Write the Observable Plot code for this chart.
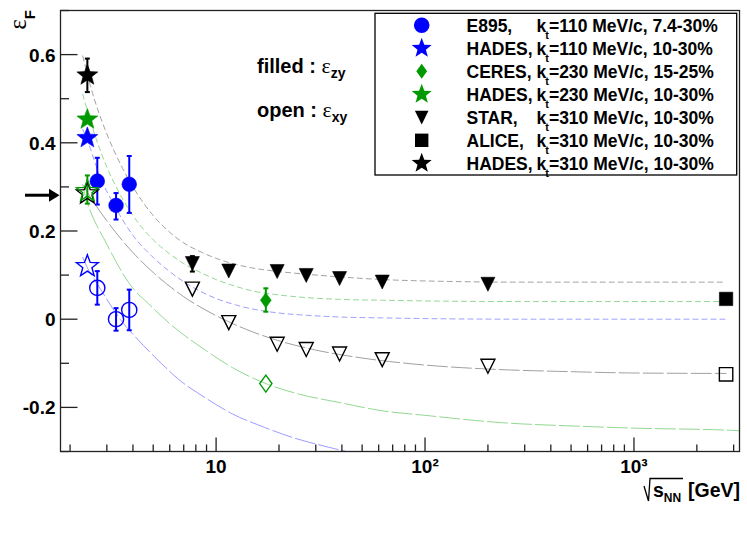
<!DOCTYPE html>
<html><head><meta charset="utf-8">
<script src="https://cdn.jsdelivr.net/npm/d3@7"></script>
<script src="https://cdn.jsdelivr.net/npm/@observablehq/plot@0.6"></script>
<style>
body{margin:0;background:#fff}
#chart svg{display:block}
</style>
</head><body><div id="chart"></div>
<script>
// ---------------- data ----------------
const hadesX = [2.42, 2.42, 2.42];            // kt = 110, 230, 310
const hadesZy = [0.411, 0.453, 0.553];
const hadesZyLo = [null, null, 0.515];
const hadesZyHi = [null, null, 0.591];
const hadesXy = [0.120, 0.290, 0.285];
const hadesXyLo = [null, 0.262, null];
const hadesXyHi = [null, 0.326, null];

const e895X = [2.70, 3.32, 3.84];
const e895Zy = [0.313, 0.258, 0.306];
const e895ZyLo = [0.260, 0.226, 0.241];
const e895ZyHi = [0.366, 0.286, 0.370];
const e895Xy = [0.071, 0.000, 0.021];
const e895XyLo = [0.033, -0.026, -0.025];
const e895XyHi = [0.109, 0.025, 0.067];

const starX = [7.7, 11.5, 19.6, 27, 39, 62.4, 200];
const starZy = [0.127, 0.110, 0.109, 0.100, 0.093, 0.085, 0.080];
const starZyLo = [0.108, null, null, null, null, null, null];
const starZyHi = [0.143, null, null, null, null, null, null];
const starXy = [0.069, -0.007, -0.056, -0.068, -0.078, -0.091, -0.106];

const ceresX = [17.3];
const ceresZy = [0.043];
const ceresZyLo = [0.017];
const ceresZyHi = [0.070];
const ceresXy = [-0.146];

const aliceX = [2760];
const aliceZy = [0.046];
const aliceXy = [-0.125];

// fitted curves
const fitZy310X = [2.3, 2.5, 3, 3.5, 4, 5, 6, 7, 8.5, 10, 12.5, 15, 20, 27, 39, 62, 118, 300, 2760];
const fitZy310Y = [0.597, 0.53, 0.42, 0.35, 0.30, 0.235, 0.197, 0.173, 0.152, 0.138, 0.124, 0.116, 0.108, 0.102, 0.096, 0.090, 0.086, 0.084, 0.084];
const fitZy230X = [2.3, 2.5, 3, 3.5, 4, 5, 6, 7, 8.5, 10, 12.5, 15, 20, 27, 39, 62, 118, 300, 2760];
const fitZy230Y = [0.51, 0.45, 0.345, 0.28, 0.235, 0.18, 0.148, 0.126, 0.105, 0.090, 0.074, 0.064, 0.055, 0.049, 0.045, 0.043, 0.041, 0.040, 0.040];
const fitZy110X = [2.3, 2.4, 2.8, 3.24, 4, 5, 6, 7, 8.5, 10, 12.5, 15, 20, 27, 39, 62, 118, 300, 2760];
const fitZy110Y = [0.43, 0.41, 0.32, 0.26, 0.19, 0.14, 0.108, 0.085, 0.062, 0.047, 0.032, 0.023, 0.014, 0.009, 0.005, 0.003, 0.001, 0.0, 0.0];
const fitXy310X = [2.3, 2.5, 3, 4, 5, 7, 10, 15, 20, 30, 50, 100, 200, 500, 1000, 2760];
const fitXy310Y = [0.305, 0.277, 0.223, 0.151, 0.106, 0.051, 0.008, -0.029, -0.049, -0.070, -0.088, -0.104, -0.113, -0.119, -0.122, -0.123];
const fitXy230X = [2.3, 2.4, 3, 4, 4.75, 6, 9, 12, 17.3, 25, 40, 61, 100, 238, 500, 1000, 2900, 3200];
const fitXy230Y = [0.30, 0.27, 0.17, 0.07, 0.035, -0.01, -0.072, -0.11, -0.146, -0.17, -0.19, -0.207, -0.218, -0.235, -0.242, -0.247, -0.252, -0.253];
const fitXy110X = [2.3, 2.4, 2.7, 3.0, 3.5, 4.2, 5.2, 6.6, 9, 12, 17, 23.5, 30, 42, 60, 100];
const fitXy110Y = [0.14, 0.12, 0.08, 0.045, -0.002, -0.045, -0.09, -0.136, -0.18, -0.215, -0.245, -0.269, -0.283, -0.30, -0.318, -0.335];

// axes
const yMajor = [-0.2, 0, 0.2, 0.4, 0.6];
const yMajorLabels = ["-0.2", "0", "0.2", "0.4", "0.6"];
const yMinor = [-0.3, -0.1, 0.1, 0.3, 0.5, 0.7];
const xMajor = [10, 100, 1000];
const xMajorLabels = ["10", "10\u00b2", "10\u00b3"];
const xMinor = [2, 3, 4, 5, 6, 7, 8, 9, 20, 30, 40, 50, 60, 70, 80, 90, 200, 300, 400, 500, 600, 700, 800, 900, 2000, 3000];

// legend
const legendNames = ["E895,", "HADES,", "CERES,", "HADES,", "STAR,", "ALICE,", "HADES,"];
const legendKt = ["110", "110", "230", "230", "310", "310", "310"];
const legendTail = ["7.4-30%", "10-30%", "15-25%", "10-30%", "10-30%", "10-30%", "10-30%"];

// ---------------- styles ----------------
const BLUE = "#0000ff", GREEN = "#009a00", BLACK = "#000000";
const LBLUE = "#9c9cff", LGREEN = "#92d892", LGRAY = "#a0a0a0";
const FONT = "'Liberation Sans', Arial, Helvetica, sans-serif";

// custom symbols (radius = sqrt(size/pi))
const rad = s => Math.sqrt(s / Math.PI);
const symStar = {draw(c, s) { const r = rad(s), ri = r * 0.42;
  for (let i = 0; i < 10; i++) { const a = -Math.PI / 2 + i * Math.PI / 5, rr = i % 2 ? ri : r;
    const x = rr * Math.cos(a), y = rr * Math.sin(a); i ? c.lineTo(x, y) : c.moveTo(x, y); }
  c.closePath(); }};
const symCircle = {draw(c, s) { const r = rad(s); c.moveTo(r, 0); c.arc(0, 0, r, 0, 2 * Math.PI); c.closePath(); }};
const symTri = {draw(c, s) { const r = rad(s); c.moveTo(-r, -r * 0.95); c.lineTo(r, -r * 0.95); c.lineTo(0, r * 1.05); c.closePath(); }};
const symDiamond = {draw(c, s) { const r = rad(s); c.moveTo(0, -r); c.lineTo(r * 0.72, 0); c.lineTo(0, r); c.lineTo(-r * 0.72, 0); c.closePath(); }};
const symSquare = {draw(c, s) { const r = rad(s); c.rect(-r, -r, 2 * r, 2 * r); }};
const symCap = {draw(c) { c.moveTo(-2.5, 0); c.lineTo(2.5, 0); }};
const hTick = len => ({draw(c) { c.moveTo(0, 0); c.lineTo(len, 0); }});
const vTick = len => ({draw(c) { c.moveTo(0, 0); c.lineTo(0, -len); }});

// ---------------- helpers ----------------
const pts = (xs, ys) => xs.map((x, i) => ({x, y: ys[i]}));
function curve(xs, ys, color, dash) {
  return Plot.line(pts(xs, ys), {x: "x", y: "y", stroke: color, strokeWidth: 1, strokeDasharray: dash, curve: "monotone-x", clip: true});
}
function dots(xs, ys, sym, r, color, filled) {
  return Plot.dot(pts(xs, ys), {x: "x", y: "y", symbol: sym, r, fill: filled ? color : "none", stroke: color, strokeWidth: filled ? 0.6 : 1.4});
}
function errs(xs, lo, hi, color) {
  const d = []; xs.forEach((x, i) => { if (lo[i] != null) d.push({x, lo: lo[i], hi: hi[i]}); });
  const caps = d.flatMap(e => [{x: e.x, y: e.lo}, {x: e.x, y: e.hi}]);
  return [Plot.ruleX(d, {x: "x", y1: "lo", y2: "hi", stroke: color, strokeWidth: 2}),
          Plot.dot(caps, {x: "x", y: "y", symbol: symCap, stroke: color, strokeWidth: 2})];
}

const SHORT = "5,4", LONG = "20,4";
const plot = Plot.plot({
  width: 747, height: 537,
  marginLeft: 60, marginRight: 8, marginTop: 10, marginBottom: 86,
  x: {type: "log", domain: [1.8, 3200], axis: null},
  y: {domain: [-0.3, 0.7], axis: null},
  style: {background: "white", fontFamily: FONT},
  marks: [
    curve(fitZy310X, fitZy310Y, LGRAY, SHORT),
    curve(fitZy230X, fitZy230Y, LGREEN, SHORT),
    curve(fitZy110X, fitZy110Y, LBLUE, SHORT),
    curve(fitXy310X, fitXy310Y, LGRAY, LONG),
    curve(fitXy230X, fitXy230Y, LGREEN, LONG),
    curve(fitXy110X, fitXy110Y, LBLUE, LONG),
    ...errs(e895X, e895ZyLo, e895ZyHi, BLUE),
    ...errs(e895X, e895XyLo, e895XyHi, BLUE),
    ...errs(hadesX, hadesZyLo, hadesZyHi, BLACK),
    ...errs(hadesX, hadesXyLo, hadesXyHi, GREEN),
    ...errs(starX, starZyLo, starZyHi, BLACK),
    ...errs(ceresX, ceresZyLo, ceresZyHi, GREEN),
    dots(e895X, e895Zy, symCircle, 7.3, BLUE, true),
    dots(e895X, e895Xy, symCircle, 7.6, BLUE, false),
    dots([hadesX[0]], [hadesZy[0]], symStar, 11, BLUE, true),
    dots([hadesX[1]], [hadesZy[1]], symStar, 11, GREEN, true),
    dots([hadesX[2]], [hadesZy[2]], symStar, 11, BLACK, true),
    dots([hadesX[0]], [hadesXy[0]], symStar, 11.5, BLUE, false),
    dots([hadesX[2]], [hadesXy[2]], symStar, 11.5, BLACK, false),
    dots([hadesX[1]], [hadesXy[1]], symStar, 11.5, GREEN, false),
    dots(starX, starZy, symTri, 7, BLACK, true),
    dots(starX, starXy, symTri, 7, BLACK, false),
    dots(ceresX, ceresZy, symDiamond, 7.5, GREEN, true),
    dots(ceresX, ceresXy, symDiamond, 8.5, GREEN, false),
    dots(aliceX, aliceZy, symSquare, 6.7, BLACK, true),
    dots(aliceX, aliceXy, symSquare, 6.7, BLACK, false),
    Plot.frame({stroke: "#222", strokeWidth: 1.3}),
    Plot.dot(yMajor, {y: d => d, frameAnchor: "left", symbol: hTick(17), stroke: "#222", strokeWidth: 1.3}),
    Plot.dot(yMinor, {y: d => d, frameAnchor: "left", symbol: hTick(8.5), stroke: "#222", strokeWidth: 1.3}),
    Plot.dot(xMajor, {x: d => d, frameAnchor: "bottom", symbol: vTick(14), stroke: "#222", strokeWidth: 1.3}),
    Plot.dot(xMinor, {x: d => d, frameAnchor: "bottom", symbol: vTick(7), stroke: "#222", strokeWidth: 1.3}),
    Plot.text(yMajor, {y: d => d, text: (d, i) => yMajorLabels[i], frameAnchor: "left", textAnchor: "end", dx: -5, dy: 1, fontSize: 19, fontWeight: "bold", fill: "black"}),
    Plot.text(xMajor, {x: d => d, text: (d, i) => xMajorLabels[i], frameAnchor: "bottom", dy: 21, fontSize: 19, fontWeight: "bold", fill: "black"})
  ]
});
document.getElementById("chart").appendChild(plot);

// ---------------- annotations ----------------
const svg = d3.select(plot);
const ys = v => 10 + (0.7 - v) / 1.0 * 441;
const g = svg.append("g").attr("font-family", FONT).attr("fill", "black").attr("text-anchor", "start");

// y-axis title (rotated)
const yt = g.append("text").attr("transform", "translate(26,10) rotate(-90)").attr("text-anchor", "end");
yt.append("tspan").attr("font-family", "'Liberation Serif', serif").attr("font-size", 25).text("\u03b5");
yt.append("tspan").attr("font-size", 15).attr("font-weight", "bold").attr("dy", 9).text("F");

// x-axis title
g.append("text").attr("x", 740).attr("y", 497).attr("text-anchor", "end").attr("font-size", 19.5).attr("font-weight", "bold").text("[GeV]");
const xt = g.append("text").attr("x", 653).attr("y", 497).attr("font-size", 19.5).attr("font-weight", "bold");
xt.append("tspan").text("s");
xt.append("tspan").attr("font-size", 12).attr("dy", 5).text("NN");
g.append("path").attr("d", "M644,486 L648.5,501 L650,478.5 H683").attr("fill", "none").attr("stroke", "black").attr("stroke-width", 1.3);

// filled / open annotation
[["filled : ", "zy", 73], ["open : ", "xy", 117]].forEach(([a, sub, yb]) => {
  const t = g.append("text").attr("x", 257).attr("y", yb).attr("font-size", 20).attr("font-weight", "bold").style("white-space", "pre");
  t.append("tspan").text(a);
  t.append("tspan").attr("font-family", "'Liberation Serif', serif").attr("font-weight", "normal").attr("font-size", 22).text("\u03b5");
  t.append("tspan").attr("font-size", 14).attr("dy", 5).text(sub);
});

// arrow at left
const ay = ys(0.28);
g.append("line").attr("x1", 25).attr("x2", 51).attr("y1", ay).attr("y2", ay).attr("stroke", "black").attr("stroke-width", 3);
g.append("path").attr("d", `M49,${ay - 6.5} L59.5,${ay} L49,${ay + 6.5} Z`).attr("fill", "black");

// legend
g.append("rect").attr("x", 375).attr("y", 13.3).attr("width", 361.7).attr("height", 161.7).attr("fill", "white").attr("stroke", "black").attr("stroke-width", 1.3);
const legSyms = [[symCircle, 7.8, BLUE], [symStar, 10.5, BLUE], [symDiamond, 7.5, GREEN], [symStar, 10.5, GREEN], [symTri, 6.8, BLACK], [symSquare, 6.7, BLACK], [symStar, 10.5, BLACK]];
legendNames.forEach((name, i) => {
  const cy = 25.3 + i * 23.0;
  const [sym, r, col] = legSyms[i];
  const p = d3.path(); sym.draw(p, r * r * Math.PI);
  g.append("path").attr("d", p.toString()).attr("transform", `translate(421.7,${cy})`).attr("fill", col);
  g.append("text").attr("x", 466.5).attr("y", cy + 6.2).attr("font-size", 17.5).attr("font-weight", "bold").text(name);
  const t = g.append("text").attr("x", 536.5).attr("y", cy + 6.2).attr("font-size", 17.5).attr("font-weight", "bold");
  t.append("tspan").text("k");
  t.append("tspan").attr("font-size", 11).attr("dy", 7).attr("dx", -1).text("t");
  t.append("tspan").attr("dy", -7).text(`=${legendKt[i]} MeV/c, ${legendTail[i]}`);
});
</script>
</body></html>
